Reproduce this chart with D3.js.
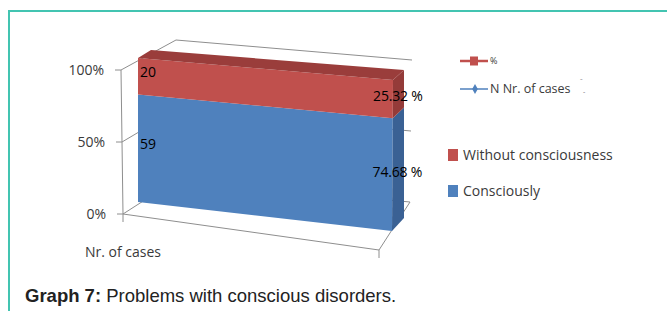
<!DOCTYPE html>
<html>
<head>
<meta charset="utf-8">
<script src="https://cdn.jsdelivr.net/npm/d3@7"></script>
<style>
  html, body { margin: 0; padding: 0; background: #fff; }
  svg { display: block; }
</style>
</head>
<body>
<svg id="chart" width="667" height="311"></svg>
<script>
/* Data */
const categories = ["Nr. of cases"]
const seriesNames = ["Consciously", "Without consciousness"]
const counts = [59, 20]
const percents = [74.68, 25.32]
const percentLabels = ["74.68 %", "25.32 %"]
const yTicks = [0, 50, 100]
const yTickLabels = ["0%", "50%", "100%"]
const lineLegendNames = ["%", "N Nr. of cases"]
const caption = ["Graph 7:", " Problems with conscious disorders."]

/* Colours */
const front = { "Consciously": "#4f81bd", "Without consciousness": "#c0504d" }
const side = { "Consciously": "#3a6194", "Without consciousness": "#943b39" }
const topFace = "#9a3d3b"
const gridColor = "#8e8e8e"
const textColor = "#3a3a3a"
const font = "'Open Sans', sans-serif"

/* Pseudo-3D layout: each vertical edge maps 0..100 % to a screen segment */
function edge(bottom, top) {
  const x = d3.scaleLinear([0, 100], [bottom[0], top[0]])
  const y = d3.scaleLinear([0, 100], [bottom[1], top[1]])
  return v => [x(v), y(v)]
}

/* walls */
const wallFL = edge([123, 214], [121, 70])
const wallBL = edge([176, 180], [176, 40])
const wallBR = edge([410, 202], [412, 60])
const wallFR = edge([379, 250], [378, 94])

/* the single stacked column */
const barFL = edge([138, 202], [138, 58])
const barFR = edge([392, 231], [393, 80])
const barBR = edge([404, 218], [404, 70])
const barBL = edge([151, 193], [151, 50])

const svg = d3.select("#chart")
const line = d3.line()

/* frame */
svg.append("path")
.attr("d", line([[9, 311], [9, 11], [667, 11]]))
.attr("fill", "none")
.attr("stroke", "#43c4b1")
.attr("stroke-width", 2)

/* floor */
svg.append("path")
.attr("d", line([wallFL(0), wallFR(0), wallBR(0), wallBL(0)]) + "Z")
.attr("fill", "none")
.attr("stroke", gridColor)

/* gridlines on side wall and back wall */
const grid = svg.append("g")
.attr("fill", "none")
.attr("stroke", gridColor)

grid.selectAll("path")
.data(yTicks.filter(v => v > 0))
.join("path")
.attr("d", v => line([wallFL(v), wallBL(v), wallBR(v)]))

/* value axis */
grid.append("path")
.attr("d", line([wallFL(0), wallFL(100)]))

grid.selectAll(".ytick")
.data(yTicks)
.join("path")
.attr("class", "ytick")
.attr("d", v => line([wallFL(v), [wallFL(v)[0] - 6, wallFL(v)[1]]]))

/* category axis ticks */
grid.selectAll(".xtick")
.data([wallFL(0), wallFR(0)])
.join("path")
.attr("class", "xtick")
.attr("d", p => line([p, [p[0], p[1] + 8]]))

svg.append("g")
.selectAll("text")
.data(yTicks)
.join("text")
.attr("x", v => wallFL(v)[0] - 17)
.attr("y", v => wallFL(v)[1])
.attr("dy", "0.35em")
.attr("text-anchor", "end")
.attr("fill", textColor)
.style("font", `14px ${font}`)
.text((v, i) => yTickLabels[i])

svg.append("text")
.attr("x", 85)
.attr("y", 252)
.attr("dy", "0.35em")
.attr("fill", textColor)
.style("font", `14px ${font}`)
.text(categories[0])

/* stacked segments */
const row = {}
seriesNames.forEach((s, i) => row[s] = percents[i])
const stacked = d3.stack().keys(seriesNames)([row])

const bar = svg.append("g")
stacked.forEach(layer => {
  const [v0, v1] = layer[0]
  bar.append("path")
  .attr("d", line([barFL(v0), barFL(v1), barFR(v1), barFR(v0)]) + "Z")
  .attr("fill", front[layer.key])
  bar.append("path")
  .attr("d", line([barFR(v0), barFR(v1), barBR(v1), barBR(v0)]) + "Z")
  .attr("fill", side[layer.key])
})
bar.append("path")
.attr("d", line([barFL(100), barBL(100), barBR(100), barFR(100)]) + "Z")
.attr("fill", topFace)

/* data labels: counts on the left, percentages on the right */
const labels = svg.append("g")
.attr("fill", "#000")
.style("font", `14px ${font}`)

stacked.forEach((layer, i) => {
  const mid = (layer[0][0] + layer[0][1]) / 2
  labels.append("text")
  .attr("x", barFL(mid)[0] + 2)
  .attr("y", barFL(mid)[1] - 4)
  .attr("dy", "0.35em")
  .text(counts[i])
  labels.append("text")
  .attr("x", barFR(mid)[0] + 5)
  .attr("y", barFR(mid)[1] - 3)
  .attr("dy", "0.35em")
  .attr("text-anchor", "middle")
  .attr("letter-spacing", "-0.2px")
  .text(percentLabels[i])
})

/* legend: line entries */
const lineLegend = svg.append("g")
const lineColors = ["#c0504d", "#4f81bd"]
lineLegendNames.forEach((name, i) => {
  const y = 61 + i * 28
  lineLegend.append("path")
  .attr("d", line([[460, y], [488, y]]))
  .attr("stroke", lineColors[i])
  .attr("stroke-width", i === 0 ? 2.5 : 1.5)
  if (i === 0) {
    lineLegend.append("rect")
    .attr("x", 470).attr("y", y - 4.5)
    .attr("width", 8).attr("height", 9)
    .attr("fill", lineColors[i])
  } else {
    lineLegend.append("path")
    .attr("d", d3.symbol(d3.symbolDiamond, 28)())
    .attr("transform", `translate(475,${y})`)
    .attr("fill", lineColors[i])
  }
  lineLegend.append("text")
  .attr("x", 490)
  .attr("y", y)
  .attr("dy", "0.35em")
  .attr("fill", textColor)
  .style("font", i === 0 ? `9px ${font}` : `12.5px ${font}`)
  .text(name)
})
lineLegend.append("text")
.attr("x", 580).attr("y", 84)
.attr("fill", "#777")
.style("font", `7px ${font}`)
.text("ˉ")
lineLegend.append("text")
.attr("x", 583).attr("y", 94)
.attr("fill", "#777")
.style("font", `7px ${font}`)
.text("-")

/* legend: series entries, top one first */
const seriesLegend = svg.append("g")
seriesNames.slice().reverse().forEach((name, i) => {
  const y = 155 + i * 36
  seriesLegend.append("rect")
  .attr("x", 448).attr("y", y - 6)
  .attr("width", 10).attr("height", 12)
  .attr("fill", front[name])
  seriesLegend.append("text")
  .attr("x", 463)
  .attr("y", y)
  .attr("dy", "0.35em")
  .attr("fill", textColor)
  .style("font", `14px ${font}`)
  .text(name)
})

/* caption */
const cap = svg.append("text")
.attr("x", 25)
.attr("y", 302)
.attr("fill", "#222")
.style("font", "18.5px 'Liberation Sans', Arial, sans-serif")
cap.append("tspan").attr("font-weight", "bold").text(caption[0])
cap.append("tspan").text(caption[1])
</script>
</body>
</html>
